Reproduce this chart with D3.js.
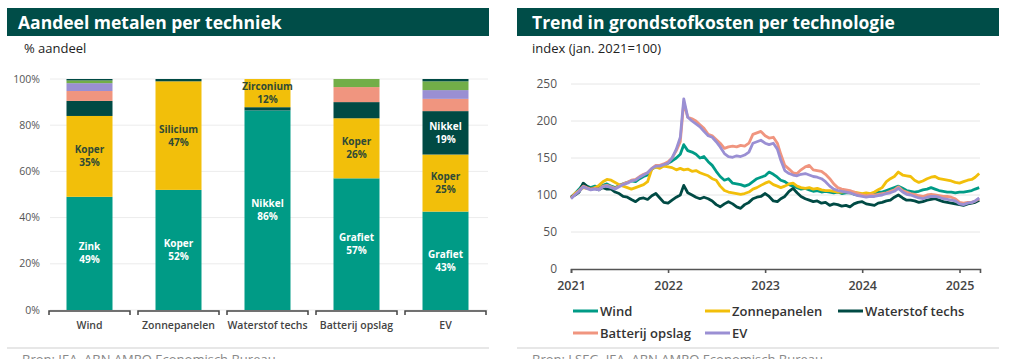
<!DOCTYPE html>
<html><head><meta charset="utf-8">
<script src="https://cdn.jsdelivr.net/npm/d3@7"></script>
<style>
html,body{margin:0;padding:0;background:#fff;overflow:hidden;}
svg{display:block;font-family:"Open Sans",sans-serif;}
</style></head><body>
<svg id="c" width="1009" height="359"></svg>
<script>
// ---------- Left chart data ----------
const categories = ["Wind","Zonnepanelen","Waterstof techs","Batterij opslag","EV"];
const segValues = [
  [49,35,6.5,4.3,3.4,1.2,0.6],
  [52,47,1],
  [86.4,1.4,12.2],
  [57,26,7,6.5,3.5],
  [42.6,24.7,18.8,5.3,3.8,3.8,1.0]
];
const segColorKeys = [
  ["teal","yellow","dark","salmon","purple","green","dark"],
  ["teal","yellow","dark"],
  ["teal","dark","yellow"],
  ["teal","yellow","dark","salmon","green"],
  ["teal","yellow","dark","salmon","purple","green","dark"]
];
const segNames = [
  ["Zink","Koper","","","","",""],
  ["Koper","Silicium",""],
  ["Nikkel","","Zirconium"],
  ["Grafiet","Koper","","",""],
  ["Grafiet","Koper","Nikkel","","","",""]
];
const pctTicks = [0,20,40,60,80,100];

// ---------- Right chart data ----------
const dates = [
"2021-01-01","2021-01-16","2021-02-01","2021-02-16","2021-03-01","2021-03-16","2021-04-01","2021-04-16","2021-05-01","2021-05-16","2021-06-01","2021-06-16","2021-07-01","2021-07-16","2021-08-01","2021-08-16","2021-09-01","2021-09-16","2021-10-01","2021-10-16","2021-11-01","2021-11-16","2021-12-01","2021-12-16",
"2022-01-01","2022-01-16","2022-02-01","2022-02-16","2022-03-01","2022-03-16","2022-04-01","2022-04-16","2022-05-01","2022-05-16","2022-06-01","2022-06-16","2022-07-01","2022-07-16","2022-08-01","2022-08-16","2022-09-01","2022-09-16","2022-10-01","2022-10-16","2022-11-01","2022-11-16","2022-12-01","2022-12-16",
"2023-01-01","2023-01-16","2023-02-01","2023-02-16","2023-03-01","2023-03-16","2023-04-01","2023-04-16","2023-05-01","2023-05-16","2023-06-01","2023-06-16","2023-07-01","2023-07-16","2023-08-01","2023-08-16","2023-09-01","2023-09-16","2023-10-01","2023-10-16","2023-11-01","2023-11-16","2023-12-01","2023-12-16",
"2024-01-01","2024-01-16","2024-02-01","2024-02-16","2024-03-01","2024-03-16","2024-04-01","2024-04-16","2024-05-01","2024-05-16","2024-06-01","2024-06-16","2024-07-01","2024-07-16","2024-08-01","2024-08-16","2024-09-01","2024-09-16","2024-10-01","2024-10-16","2024-11-01","2024-11-16","2024-12-01","2024-12-16",
"2025-01-01","2025-01-16","2025-02-01","2025-02-16","2025-03-01","2025-03-16"];
const wind = [97,102,108,115,112,110,112,110,113,115,112,110,113,115,117,119,118,122,125,127,135,138,137,140,
143,146,150,155,168,160,158,155,150,152,145,140,132,125,120,122,116,115,114,112,114,118,122,124,
126,131,128,124,120,118,114,112,110,108,109,107,105,106,104,105,104,103,104,102,103,103,101,100,
100,101,100,102,104,104,106,108,110,112,109,106,105,104,105,107,108,110,108,106,105,104,104,103,
104,104,105,106,108,110];
const zonnepanelen = [96,102,106,110,109,108,110,113,118,121,120,117,114,112,110,108,110,112,114,118,135,138,136,139,
138,137,134,136,134,135,132,133,130,128,126,122,120,112,106,104,103,102,101,102,104,108,110,113,
116,118,114,112,110,112,115,116,112,110,109,110,108,109,107,106,106,105,104,104,105,103,104,103,
102,103,102,104,107,110,118,122,125,131,127,126,125,120,117,119,122,124,125,122,121,120,119,117,
116,118,120,121,124,129];
const waterstof = [97,100,104,116,112,108,109,107,110,108,108,104,102,98,97,94,91,95,96,94,99,102,96,90,
89,93,97,100,113,103,100,97,95,97,95,92,87,84,88,91,88,84,82,87,90,95,97,98,
102,98,92,91,95,98,105,109,103,98,95,93,91,92,89,90,86,88,87,85,86,84,88,90,
91,88,87,86,89,90,92,93,97,100,96,93,93,92,90,91,93,94,95,93,91,90,89,88,
87,86,88,89,90,93];
const batterij = [96,101,106,112,110,108,109,108,112,113,111,109,112,115,117,120,121,125,128,130,136,140,140,142,
145,150,160,172,225,205,203,200,195,190,182,180,175,170,163,165,166,165,167,166,170,182,184,186,
180,177,178,170,155,140,135,130,129,134,138,140,134,133,132,128,122,115,110,108,107,106,104,102,
100,99,100,100,101,102,103,105,107,111,106,104,102,101,99,98,100,101,100,99,98,98,97,95,
90,89,90,90,92,95];
const ev = [95,100,105,111,109,107,108,107,111,112,110,108,111,114,116,119,120,124,127,130,136,139,139,141,
143,150,162,178,230,205,200,196,192,186,180,178,172,165,156,152,151,153,152,154,158,170,172,174,
170,168,170,162,147,133,129,127,126,128,129,127,125,124,122,118,112,108,106,105,104,103,101,99,
98,97,98,98,99,100,102,103,105,109,104,101,100,98,96,95,97,98,98,97,95,94,93,92,
88,87,89,90,92,96];
const seriesNames = ["Wind","Zonnepanelen","Waterstof techs","Batterij opslag","EV"];
const seriesValues = [wind, zonnepanelen, waterstof, batterij, ev];
const indexTicks = [0,50,100,150,200,250];
const yearTicks = ["2021","2022","2023","2024","2025"];

// ---------- Styles ----------
const COL = {teal:"#009B86", yellow:"#F2BF0A", dark:"#004A44", salmon:"#F0957F", purple:"#9A8FD3", green:"#72AE48"};
const lineColors = [COL.teal, COL.yellow, COL.dark, COL.salmon, COL.purple];
const HEADER = "#004D48";

const svg = d3.select("#c");

function header(x0, x1, title, titleX, sub, subX) {
  svg.append("rect").attr("x", x0).attr("y", 8).attr("width", x1 - x0).attr("height", 28).attr("fill", HEADER);
  svg.append("text").attr("x", titleX).attr("y", 29)
    .attr("fill", "#fff").attr("font-size", 17.5).attr("font-weight", 700).text(title);
  svg.append("text").attr("x", subX).attr("y", 53).attr("fill", "#222").attr("font-size", 13).text(sub);
  svg.append("line").attr("x1", x0).attr("x2", x1).attr("y1", 348).attr("y2", 348)
    .attr("stroke", "#cfcfcf").attr("stroke-width", 1);
}
header(7, 489, "Aandeel metalen per techniek", 18, "% aandeel", 24);
header(517, 999, "Trend in grondstofkosten per technologie", 532, "index (jan. 2021=100)", 532);
svg.append("text").attr("x", 22).attr("y", 364).attr("fill", "#888").attr("font-size", 13)
  .text("Bron: IEA, ABN AMRO Economisch Bureau");
svg.append("text").attr("x", 532).attr("y", 364).attr("fill", "#888").attr("font-size", 13)
  .text("Bron: LSEG, IEA, ABN AMRO Economisch Bureau");

// ---------- Left chart ----------
const yL = d3.scaleLinear().domain([0, 100]).range([310, 79]);
const xL = d3.scaleBand().domain(categories).range([45, 490]).padding(0);
const barW = 46;

const gL = svg.append("g");
gL.append("g").selectAll("line").data(pctTicks).join("line")
  .attr("x1", 50).attr("x2", 488).attr("y1", d => yL(d)).attr("y2", d => yL(d))
  .attr("stroke", "#ececec").attr("stroke-width", 1);
gL.append("g").selectAll("text").data(pctTicks).join("text")
  .attr("x", 40).attr("y", d => yL(d)).attr("dy", "0.35em").attr("text-anchor", "end")
  .attr("font-size", 10.5).attr("fill", "#555").text(d => d + "%");

const segs = [];
categories.forEach((c, i) => {
  let acc = 0;
  segValues[i].forEach((v, j) => {
    segs.push({cat: c, y0: acc, y1: acc + v, v, color: COL[segColorKeys[i][j]], key: segColorKeys[i][j], name: segNames[i][j]});
    acc += v;
  });
});
gL.append("g").selectAll("rect").data(segs).join("rect")
  .attr("x", d => xL(d.cat) + (xL.bandwidth() - barW) / 2)
  .attr("width", barW)
  .attr("y", d => yL(d.y1))
  .attr("height", d => yL(d.y0) - yL(d.y1))
  .attr("fill", d => d.color);

const lab = gL.append("g").selectAll("g").data(segs.filter(d => d.name)).join("g")
  .attr("transform", d => `translate(${xL(d.cat) + xL.bandwidth() / 2},${(yL(d.y0) + yL(d.y1)) / 2})`);
lab.append("text").attr("y", -3).attr("text-anchor", "middle").attr("font-size", 10).attr("font-weight", 700)
  .attr("fill", d => d.key === "yellow" ? "#2f4a36" : "#fff").text(d => d.name);
lab.append("text").attr("y", 10).attr("text-anchor", "middle").attr("font-size", 10).attr("font-weight", 700)
  .attr("fill", d => d.key === "yellow" ? "#2f4a36" : "#fff").text(d => d3.format(".0f")(d.v) + "%");

// brackets
gL.append("g").selectAll("path").data(categories).join("path")
  .attr("d", c => {
    const a = xL(c) + 4, b = xL(c) + xL.bandwidth() - 4, y = 311;
    return `M${a},${y + 4}L${a},${y}L${b},${y}L${b},${y + 4}`;
  })
  .attr("fill", "none").attr("stroke", "#444").attr("stroke-width", 1.5);
gL.append("g").selectAll("text").data(categories).join("text")
  .attr("x", c => xL(c) + xL.bandwidth() / 2).attr("y", 329).attr("text-anchor", "middle")
  .attr("font-size", 10.5).attr("font-weight", 600).attr("fill", "#444").text(c => c);

// ---------- Right chart ----------
const parse = d3.timeParse("%Y-%m-%d");
const dts = dates.map(parse);
const xR = d3.scaleTime().domain([parse("2021-01-01"), parse("2025-03-19")]).range([571, 980]);
const yR = d3.scaleLinear().domain([0, 250]).range([269, 84]);
const gR = svg.append("g");
gR.append("g").selectAll("line").data(indexTicks.slice(1)).join("line")
  .attr("x1", 571).attr("x2", 980).attr("y1", d => yR(d)).attr("y2", d => yR(d))
  .attr("stroke", "#e6e6e6").attr("stroke-width", 1);
gR.append("g").selectAll("text").data(indexTicks).join("text")
  .attr("x", 557).attr("y", d => yR(d)).attr("dy", "0.35em").attr("text-anchor", "end")
  .attr("font-size", 12).attr("fill", "#555").text(d => d);

const line = d3.line().x((d, i) => xR(dts[i])).y(d => yR(d)).curve(d3.curveLinear);
gR.append("g").selectAll("path").data(seriesValues).join("path")
  .attr("d", d => line(d)).attr("fill", "none")
  .attr("stroke", (d, i) => lineColors[i]).attr("stroke-width", 2.8).attr("stroke-linejoin", "round");

// x axis
const xAxis = d3.axisBottom(xR).tickValues(yearTicks.map(y => parse(y + "-01-01"))).tickSize(4).tickFormat(d3.timeFormat("%Y"));
const ax = gR.append("g").attr("transform", "translate(0,269)").call(xAxis);
ax.select(".domain").attr("stroke", "#555").attr("stroke-width", 1.6);
ax.selectAll(".tick line").attr("stroke", "#555").attr("stroke-width", 1.6);
ax.selectAll(".tick text").attr("font-size", 12.5).attr("font-weight", 600).attr("fill", "#444")
  .attr("font-family", '"Open Sans",sans-serif').attr("y", 12);

// legend
const legPos = [[573, 311], [705, 311], [838, 311], [573, 333], [705, 333]];
const leg = gR.append("g").selectAll("g").data(seriesNames).join("g")
  .attr("transform", (d, i) => `translate(${legPos[i][0]},${legPos[i][1]})`);
leg.append("line").attr("x1", 0).attr("x2", 25).attr("stroke", (d, i) => lineColors[i]).attr("stroke-width", 3);
leg.append("text").attr("x", 27).attr("dy", "0.35em").attr("font-size", 13).attr("font-weight", 600)
  .attr("fill", "#333").text(d => d);
</script>
</body></html>
